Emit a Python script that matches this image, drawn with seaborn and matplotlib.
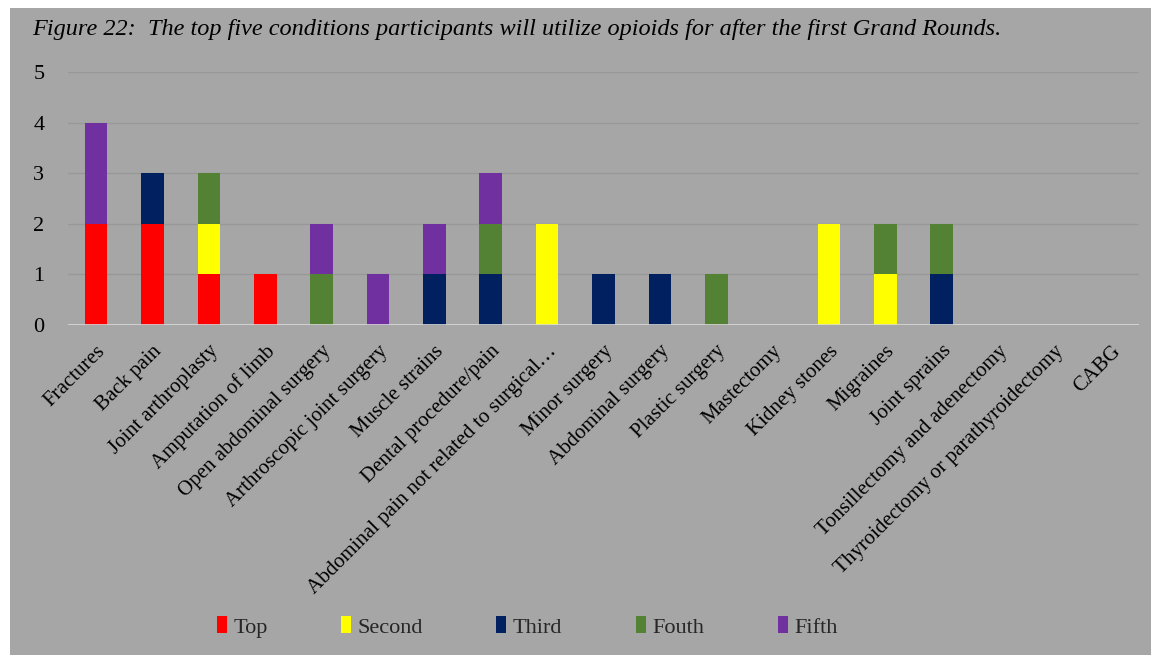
import numpy as np
import pandas as pd
import matplotlib.pyplot as plt
import matplotlib.patches as mpatches
import seaborn as sns

# Chart data
conditions = [
    "Fractures", "Back pain", "Joint arthroplasty", "Amputation of limb",
    "Open abdominal surgery", "Arthroscopic joint surgery", "Muscle strains",
    "Dental procedure/pain", "Abdominal pain not related to surgical\u2026",
    "Minor surgery", "Abdominal surgery", "Plastic surgery", "Mastectomy",
    "Kidney stones", "Migraines", "Joint sprains",
    "Tonsillectomy and adenectomy", "Thyroidectomy or parathyroidectomy", "CABG",
]
top    = [2, 2, 1, 1, 0, 0, 0, 0, 0, 0, 0, 0, 0, 0, 0, 0, 0, 0, 0]
second = [0, 0, 1, 0, 0, 0, 0, 0, 2, 0, 0, 0, 0, 2, 1, 0, 0, 0, 0]
third  = [0, 1, 0, 0, 0, 0, 1, 1, 0, 1, 1, 0, 0, 0, 0, 1, 0, 0, 0]
fourth = [0, 0, 1, 0, 1, 0, 0, 1, 0, 0, 0, 1, 0, 0, 1, 1, 0, 0, 0]
fifth  = [2, 0, 0, 0, 1, 1, 1, 1, 0, 0, 0, 0, 0, 0, 0, 0, 0, 0, 0]

series_names = ["Top", "Second", "Third", "Fouth", "Fifth"]
colors = ["#FF0000", "#FFFF00", "#002060", "#548235", "#7030A0"]

BG = "#A6A6A6"

sns.set_theme(style="white")
plt.rcParams['font.family'] = ['Liberation Serif', 'DejaVu Serif']

df = pd.DataFrame({"Condition": conditions, "Top": top, "Second": second,
                   "Third": third, "Fouth": fourth, "Fifth": fifth})
cum = df[series_names].cumsum(axis=1)

fig = plt.figure(figsize=(11.51, 6.55), dpi=100, facecolor="white")
# gray chart area (white margin at top and left)
bg = mpatches.Rectangle((10 / 1151, 0), 1, 1 - 8 / 655, transform=fig.transFigure,
                        facecolor=BG, edgecolor="none", zorder=-10)
fig.add_artist(bg)

ax = fig.add_axes([68 / 1151, 1 - 325 / 655, (1139 - 68) / 1151, (325 - 72) / 655])
ax.set_facecolor("none")

# stacked bars: draw cumulative totals from the top layer down
for name, color in reversed(list(zip(series_names, colors))):
    sns.barplot(x=df["Condition"], y=cum[name], color=color, width=0.4,
                saturation=1, linewidth=0, ax=ax, zorder=3)

ax.set_ylim(0, 5)
ax.set_yticks(range(0, 6))
ax.set_xlim(-0.5, len(conditions) - 0.5)
ax.set_xlabel("")
ax.set_ylabel("")
for y in range(1, 6):
    ax.axhline(y, color="#989898", linewidth=1, zorder=1)
ax.axhline(0, color="#D9D9D9", linewidth=1.2, zorder=4)
for s in ax.spines.values():
    s.set_visible(False)

ax.tick_params(axis="y", labelsize=16, length=0, pad=17, colors="black")
ax.tick_params(axis="x", labelsize=15, length=0, pad=12, colors="black")
plt.setp(ax.get_xticklabels(), rotation=45, ha="right", rotation_mode="anchor")

fig.text(32 / 1151, 1 - 30 / 655,
         "Figure 22:  The top five conditions participants will utilize opioids for after the first Grand Rounds.",
         fontsize=17.5, style="italic", va="center", ha="left", color="black")

handles = [mpatches.Patch(facecolor=c, edgecolor="none") for c in colors]
fig.legend(handles, series_names, loc="center", ncol=5,
           bbox_to_anchor=(0.458, 1 - 627 / 655), frameon=False,
           fontsize=16, handlelength=0.45, handleheight=0.8,
           handletextpad=0.3, columnspacing=3.3)

fig.savefig("out.png", dpi=100, facecolor=fig.get_facecolor())
